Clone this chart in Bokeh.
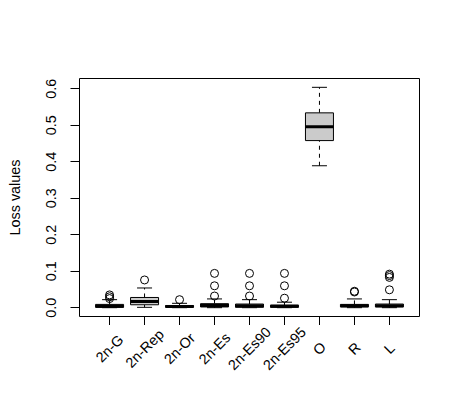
from bokeh.plotting import figure
from bokeh.layouts import column
from bokeh.models import (ColumnDataSource, Range1d, FixedTicker, Whisker, TeeHead,
                          PrintfTickFormatter)
from bokeh.core.properties import value
from bokeh.transform import dodge
from bokeh.embed import file_html
from bokeh.resources import INLINE

categories = ["2n-G", "2n-Rep", "2n-Or", "2n-Es", "2n-Es90", "2n-Es95", "O", "R", "L"]
positions = [1, 2, 3, 4, 5, 6, 7, 8, 9]
lower_whisker = [0.000, 0.001, 0.000, 0.000, 0.000, 0.000, 0.389, 0.000, 0.000]
q1 = [0.001, 0.008, 0.001, 0.002, 0.001, 0.001, 0.458, 0.002, 0.002]
median = [0.004, 0.017, 0.003, 0.006, 0.005, 0.004, 0.496, 0.005, 0.005]
q3 = [0.009, 0.028, 0.006, 0.011, 0.010, 0.007, 0.534, 0.009, 0.010]
upper_whisker = [0.022, 0.054, 0.012, 0.024, 0.022, 0.015, 0.604, 0.024, 0.022]

outlier_cat = [1, 1, 1, 2, 3, 4, 4, 4, 5, 5, 5, 6, 6, 6, 8, 8, 9, 9, 9, 9]
outlier_val = [0.035, 0.030, 0.025, 0.076, 0.022, 0.094, 0.060, 0.032, 0.094, 0.060, 0.032,
               0.094, 0.060, 0.026, 0.045, 0.043, 0.092, 0.088, 0.083, 0.049]

y_ticks = [0.0, 0.1, 0.2, 0.3, 0.4, 0.5, 0.6]

src = ColumnDataSource(dict(x=positions, lw=lower_whisker, q1=q1, med=median, q3=q3,
                            uw=upper_whisker))

Y0, Y1 = -0.02416, 0.62816
FONT = "Liberation Sans"
FS = "14.4px"
TICK = 9
TOP_H = 78 + 238 + TICK        # main figure height (frame ends at 316, ticks below)
BOT_H = 414 - TOP_H            # strip that holds the rotated category labels

p = figure(width=460, height=TOP_H, output_backend="svg", toolbar_location=None,
           x_range=Range1d(0.14, 9.86), y_range=Range1d(Y0, Y1),
           min_border_left=79, min_border_right=41, min_border_top=78,
           min_border_bottom=TICK)

p.xgrid.visible = False
p.ygrid.visible = False
p.outline_line_color = "black"
p.outline_line_width = 1
p.outline_line_alpha = 1
p.background_fill_color = "white"
p.border_fill_color = "white"

# whiskers
upper = Whisker(source=src, base="x", upper="uw", lower="q3",
                upper_head=TeeHead(size=15, line_color="black", line_width=1),
                lower_head=None, line_color="black", line_dash="4 4", line_width=1)
lower = Whisker(source=src, base="x", upper="q1", lower="lw",
                lower_head=TeeHead(size=15, line_color="black", line_width=1),
                upper_head=None, line_color="black", line_dash="4 4", line_width=1)
p.add_layout(upper)
p.add_layout(lower)

p.vbar(x="x", width=0.8, bottom="q1", top="q3", source=src,
       fill_color="#CBCBCB", line_color="black", line_width=1)
p.segment(x0=dodge("x", -0.4, range=p.x_range), x1=dodge("x", 0.4, range=p.x_range),
          y0="med", y1="med", source=src, line_color="black", line_width=3)

p.scatter(outlier_cat, outlier_val, marker="circle", size=8, fill_color=None,
          line_color="black", line_width=1)

# x axis: ticks only (labels drawn rotated & centred in the strip below)
xa = p.xaxis[0]
xa.ticker = FixedTicker(ticks=positions)
xa.major_label_text_color = None
xa.major_label_standoff = 0
xa.axis_line_color = None
xa.major_tick_in = 0
xa.major_tick_out = TICK
xa.minor_tick_line_color = None

ya = p.yaxis[0]
ya.ticker = FixedTicker(ticks=y_ticks)
ya.formatter = PrintfTickFormatter(format="%.1f")
ya.major_label_orientation = "vertical"
ya.axis_line_color = None
ya.major_tick_in = 0
ya.major_tick_out = TICK
ya.minor_tick_line_color = None
ya.major_label_text_font = FONT
ya.major_label_text_font_size = FS
ya.major_label_text_color = "black"
ya.major_label_standoff = 14
ya.axis_label = "Loss values"
ya.axis_label_text_font = FONT
ya.axis_label_text_font_size = FS
ya.axis_label_text_font_style = "normal"
ya.axis_label_text_color = "black"
ya.axis_label_standoff = 21

# label strip sharing the x scale; y measured in px downward from its top edge
p2 = figure(width=460, height=BOT_H, output_backend="svg", toolbar_location=None,
            x_range=p.x_range, y_range=Range1d(BOT_H, 0),
            x_axis_location=None, y_axis_location=None,
            min_border_left=79, min_border_right=41, min_border_top=0, min_border_bottom=0)
p2.xgrid.visible = False
p2.ygrid.visible = False
p2.outline_line_color = None
p2.background_fill_color = "white"
p2.border_fill_color = "white"
p2.text(x=positions, y=348 - TOP_H, text=categories, angle=45, angle_units="deg",
        text_align="center", text_baseline="middle", text_font=value(FONT),
        text_font_size=value(FS), text_color="black")

layout = column(p, p2, spacing=0)
open("out.html", "w").write(file_html(layout, INLINE))
